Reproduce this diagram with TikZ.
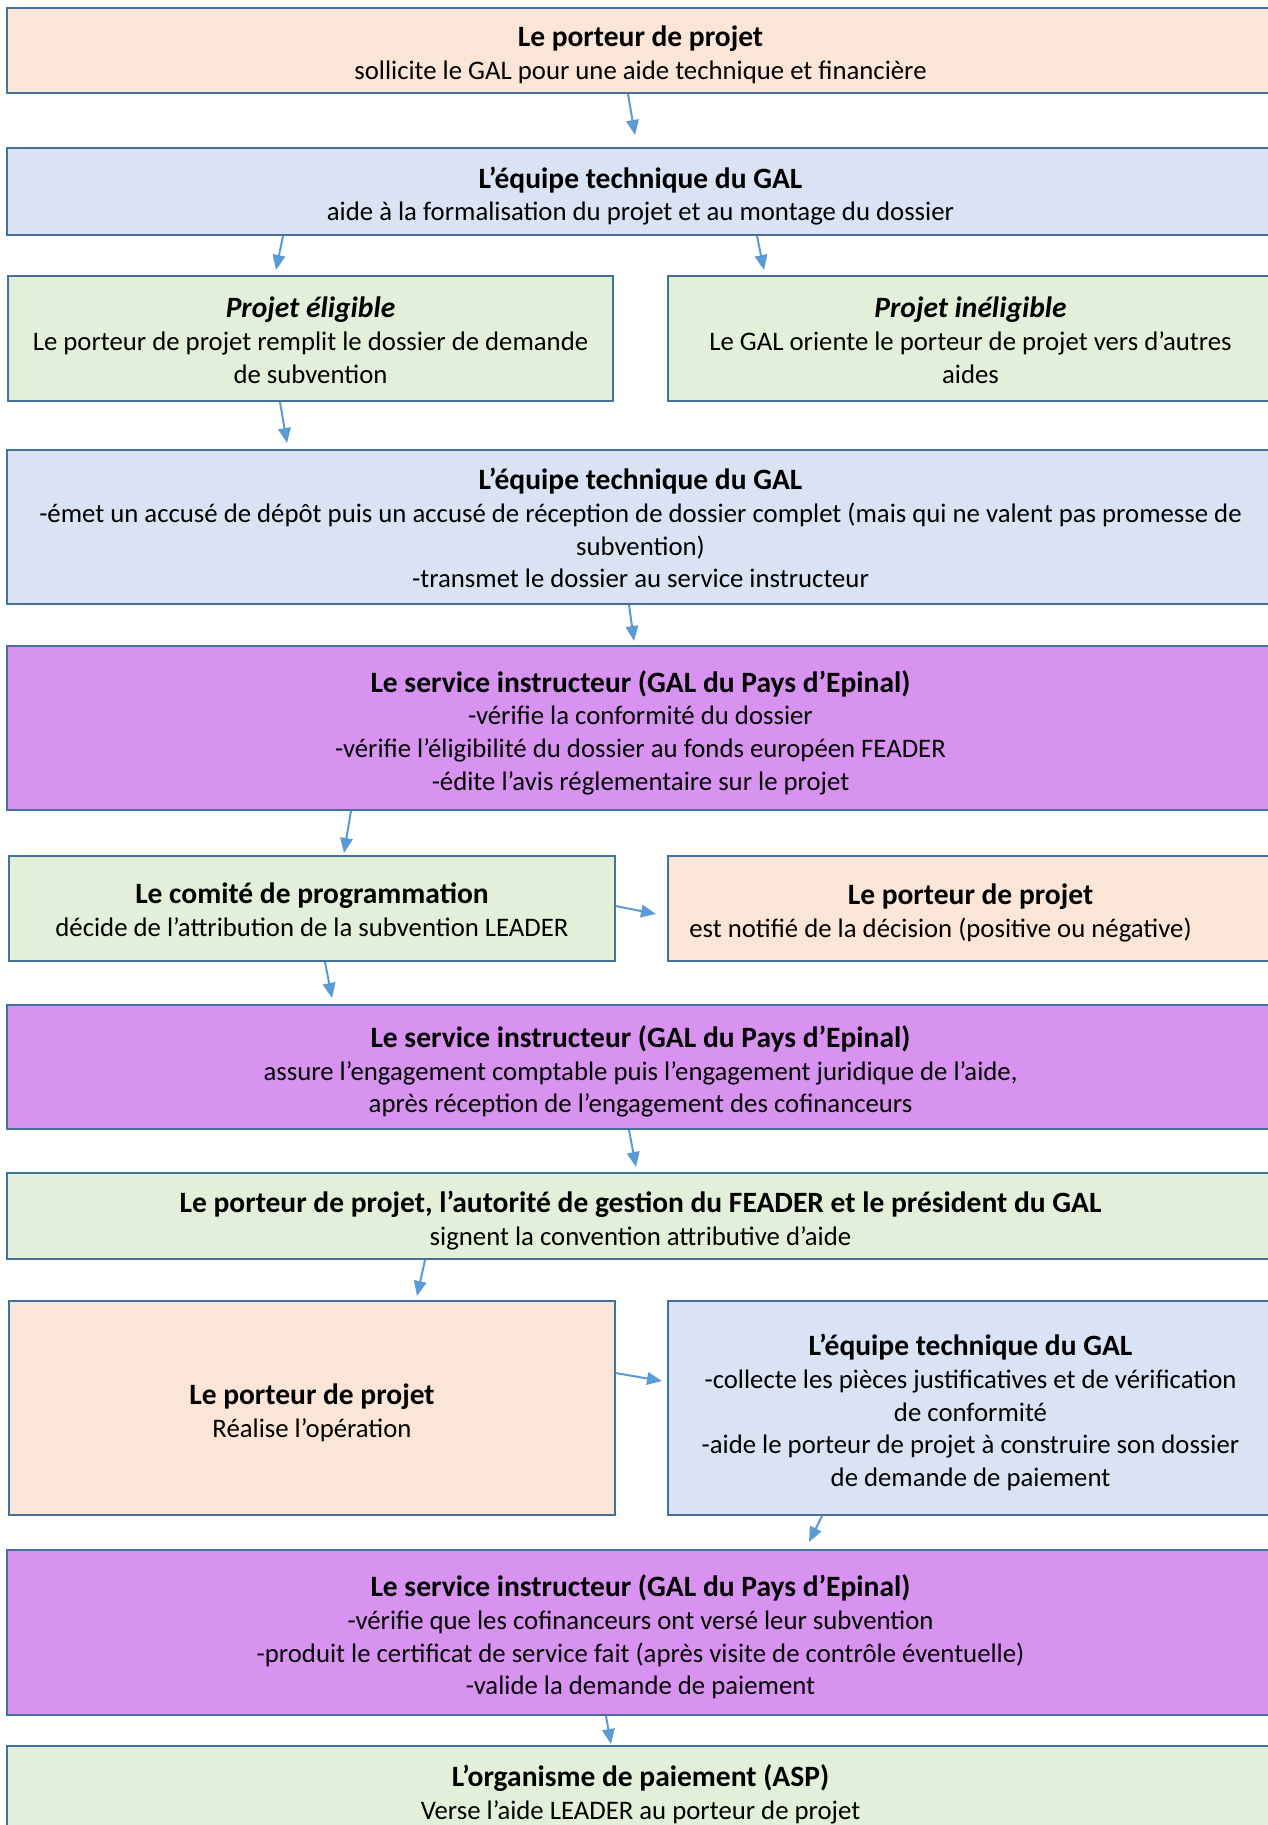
\documentclass[tikz,border=0pt]{standalone}
\usepackage{fontspec}
\setmainfont{Carlito}
\usepackage{tikz}
\usetikzlibrary{arrows.meta}
\definecolor{boxline}{HTML}{41719C}
\definecolor{arrowblue}{HTML}{5B9BD5}
\definecolor{orangefill}{HTML}{FBE5D6}
\definecolor{bluefill}{HTML}{DAE3F3}
\definecolor{greenfill}{HTML}{E2F0D9}
\definecolor{violetfill}{HTML}{D892F0}
\newcommand{\boxtitle}[1]{{\fontsize{11.8pt}{13.1pt}\selectfont\bfseries #1}}
\tikzset{
    box/.style={draw=boxline, line width=0.8pt, inner sep=0pt},
    wide/.style={box, minimum width=506.8pt},
    half/.style={box, minimum width=242pt},
    boxtext/.style={align=center, inner sep=0pt, yshift=-1.8pt,
        font=\fontsize{10.7pt}{13.1pt}\selectfont},
    flow/.style={arrowblue, line width=0.8pt, -{Triangle[length=6pt,width=5pt]}}
}

\begin{document}
\begin{tikzpicture}[x=0.4pt, y=-0.4pt]
            \path[use as bounding box, fill=white] (0,0) rectangle (1267,1825);

            % boxes
            \node[wide, fill=orangefill, minimum height=34pt] (Porteur) at (640.5,50.5) {};
            \node[wide, fill=bluefill, minimum height=34.8pt] (Equipe) at (640.5,191.5) {};
            \node[half, fill=greenfill, minimum height=50pt] (Eligible) at (310.5,338.5) {};
            \node[half, fill=greenfill, minimum height=50pt] (Ineligible) at (970.5,338.5) {};
            \node[wide, fill=bluefill, minimum height=61.6pt] (Depot) at (640.5,527) {};
            \node[wide, fill=violetfill, minimum height=65.6pt] (Instruction) at (640.5,728) {};
            \node[half, fill=greenfill, minimum height=42pt] (Comite) at (312,908.5) {};
            \node[half, fill=orangefill, minimum height=42pt] (Notifie) at (970.5,908.5) {};
            \node[wide, fill=violetfill, minimum height=49.6pt] (Engagement) at (640.5,1067) {};
            \node[wide, fill=greenfill, minimum height=34.4pt] (Convention) at (640.5,1216) {};
            \node[half, fill=orangefill, minimum height=85.6pt] (Operation) at (312,1408) {};
            \node[half, fill=bluefill, minimum height=85.6pt] (Pieces) at (970.5,1408) {};
            \node[wide, fill=violetfill, minimum height=66pt] (Paiement) at (640.5,1632.5) {};
            \node[wide, fill=greenfill, minimum height=34pt] (ASP) at (640.5,1788.5) {};

            % texts
            \node[boxtext] (PorteurTxt) at (Porteur)
                {\boxtitle{Le porteur de projet}\\sollicite le GAL pour une aide technique et financière};
            \node[boxtext] (EquipeTxt) at (Equipe)
                {\boxtitle{L’équipe technique du GAL}\\aide à la formalisation du projet et au montage du dossier};
            \node[boxtext, yshift=1.2pt] (EligibleTxt) at (Eligible)
                {\boxtitle{\itshape Projet éligible}\\Le porteur de projet remplit le dossier de demande\\de subvention};
            \node[boxtext, yshift=1.2pt] (IneligibleTxt) at (Ineligible)
                {\boxtitle{\itshape Projet inéligible}\\Le GAL oriente le porteur de projet vers d’autres\\aides};
            \node[boxtext, yshift=1.4pt] (DepotTxt) at (Depot)
                {\boxtitle{L’équipe technique du GAL}\\-émet un accusé de dépôt puis un accusé de réception de dossier complet (mais qui ne valent pas promesse de\\subvention)\\-transmet le dossier au service instructeur};
            \node[boxtext] (InstructionTxt) at (Instruction)
                {\boxtitle{Le service instructeur (GAL du Pays d’Epinal)}\\-vérifie la conformité du dossier\\-vérifie l’éligibilité du dossier au fonds européen FEADER\\-édite l’avis réglementaire sur le projet};
            \node[boxtext, yshift=1.2pt] (ComiteTxt) at (Comite)
                {\boxtitle{Le comité de programmation}\\décide de l’attribution de la subvention LEADER};
            \node[boxtext] (NotifieTxt) at (Notifie)
                {\boxtitle{Le porteur de projet}\\est notifié de la décision (positive ou négative)\hspace*{24pt}};
            \node[boxtext] (EngagementTxt) at (Engagement)
                {\boxtitle{Le service instructeur (GAL du Pays d’Epinal)}\\assure l’engagement comptable puis l’engagement juridique de l’aide,\\après réception de l’engagement des cofinanceurs};
            \node[boxtext] (ConventionTxt) at (Convention)
                {\boxtitle{Le porteur de projet, l’autorité de gestion du FEADER et le président du GAL}\\signent la convention attributive d’aide};
            \node[boxtext] (OperationTxt) at (Operation)
                {\boxtitle{Le porteur de projet}\\Réalise l’opération};
            \node[boxtext] (PiecesTxt) at (Pieces)
                {\boxtitle{L’équipe technique du GAL}\\-collecte les pièces justificatives et de vérification\\de conformité\\-aide le porteur de projet à construire son dossier\\de demande de paiement};
            \node[boxtext] (PaiementTxt) at (Paiement)
                {\boxtitle{Le service instructeur (GAL du Pays d’Epinal)}\\-vérifie que les cofinanceurs ont versé leur subvention\\-produit le certificat de service fait (après visite de contrôle éventuelle)\\-valide la demande de paiement};
            \node[boxtext, yshift=-0.6pt] (ASPTxt) at (ASP)
                {\boxtitle{L’organisme de paiement (ASP)}\\Verse l’aide LEADER au porteur de projet};

            % arrow ends, placed by hand in the gaps
            \coordinate (A1) at (635,135);
            \coordinate (A2) at (276,270);
            \coordinate (A3) at (764,270);
            \coordinate (A4) at (287,443);
            \coordinate (A5) at (634,641);
            \coordinate (A6) at (344,853);
            \coordinate (A7) at (656,914);
            \coordinate (A8) at (332,998);
            \coordinate (A9) at (636,1167);
            \coordinate (A10) at (417,1296);
            \coordinate (A11) at (662,1381);
            \coordinate (A12) at (809,1542);
            \coordinate (A13) at (611,1744);

            \draw[flow] (Porteur.south -| 628,0) -- (A1);
            \draw[flow] (Equipe.south -| 283,0) -- (A2);
            \draw[flow] (Equipe.south -| 757,0) -- (A3);
            \draw[flow] (Eligible.south -| 280,0) -- (A4);
            \draw[flow] (Depot.south -| 629,0) -- (A5);
            \draw[flow] (Instruction.south -| 351,0) -- (A6);
            \draw[flow] (Comite.east |- 0,906) -- (A7);
            \draw[flow] (Comite.south -| 325,0) -- (A8);
            \draw[flow] (Engagement.south -| 629,0) -- (A9);
            \draw[flow] (Convention.south -| 425,0) -- (A10);
            \draw[flow] (Operation.east |- 0,1373) -- (A11);
            \draw[flow] (Pieces.south -| 822,0) -- (A12);
            \draw[flow] (Paiement.south -| 606,0) -- (A13);
        \end{tikzpicture}
\end{document}
